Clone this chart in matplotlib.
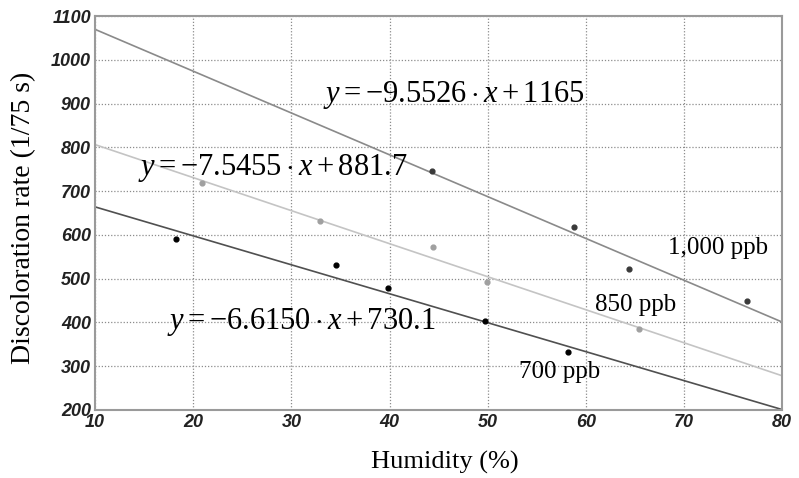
import matplotlib
matplotlib.use('Agg')
import matplotlib.pyplot as plt
import numpy as np

plt.rcParams['mathtext.fontset'] = 'custom'
plt.rcParams['mathtext.rm'] = 'Liberation Serif'
plt.rcParams['mathtext.it'] = 'Liberation Serif:italic'

# измеренные точки
hum_1000 = [44.3, 58.8, 64.4, 76.4]
rate_1000 = [746, 617, 521, 449]
hum_850 = [20.9, 32.9, 44.4, 49.9, 65.4]
rate_850 = [719, 631, 573, 493, 384]
hum_700 = [18.2, 34.5, 39.8, 49.7, 58.2]
rate_700 = [590, 532, 479, 403, 332]

# коэффициенты линий
fits = {'1000': (-9.5526, 1165), '850': (-7.5455, 881.7), '700': (-6.6150, 730.1)}

serif = 'Liberation Serif'
fig = plt.figure(figsize=(7.99, 4.78), dpi=100)
ax = fig.add_axes([0.119, 0.1423, 0.86, 0.8242])

xx = np.array([10, 80])
ax.plot(xx, fits['1000'][0] * xx + fits['1000'][1], color='#8a8a8a', lw=1.2, zorder=2)
ax.plot(xx, fits['850'][0] * xx + fits['850'][1], color='#c4c4c4', lw=1.2, zorder=2)
ax.plot(xx, fits['700'][0] * xx + fits['700'][1], color='#505050', lw=1.2, zorder=2)

ax.scatter(hum_1000, rate_1000, s=12, color='#3a3a3a', zorder=3)
ax.scatter(hum_850, rate_850, s=12, color='#a0a0a0', zorder=3)
ax.scatter(hum_700, rate_700, s=12, color='#000000', zorder=3)

ax.set_xlim(10, 80)
ax.set_ylim(200, 1100)
ax.set_xticks(range(10, 81, 10))
ax.set_yticks(range(200, 1101, 100))
ax.grid(True, linestyle=(0, (1, 1.5)), color='#8c8c8c', lw=0.9)
ax.tick_params(length=0, pad=3)
for sp in ax.spines.values():
    sp.set_color('#9a9a9a')
    sp.set_linewidth(1.5)
for lab in ax.get_xticklabels() + ax.get_yticklabels():
    lab.set_family('Liberation Sans')
    lab.set_weight('bold')
    lab.set_style('italic')
    lab.set_fontsize(13)
    lab.set_color('#222222')

ax.text(0.332, 0.80, r'$y = -9.5526\cdot x + 1165$', transform=ax.transAxes,
        fontsize=22, va='center', ha='left')
ax.text(0.063, 0.614, r'$y = -7.5455\cdot x + 881.7$', transform=ax.transAxes,
        fontsize=22, va='center', ha='left')
ax.text(0.105, 0.223, r'$y = -6.6150\cdot x + 730.1$', transform=ax.transAxes,
        fontsize=22, va='center', ha='left')

ax.text(73.5, 570, '1,000 ppb', family=serif, fontsize=18, va='center', ha='center')
ax.text(65.1, 440, '850 ppb', family=serif, fontsize=18, va='center', ha='center')
ax.text(57.35, 287, '700 ppb', family=serif, fontsize=18, va='center', ha='center')

fig.text(0.030, 0.545, 'Discoloration rate (1/75 s)', rotation=90, family=serif,
         fontsize=20, va='center', ha='center')
fig.text(0.557, 0.033, 'Humidity (%)', family=serif, fontsize=19, va='center', ha='center')

fig.savefig('out.png', dpi=100)
